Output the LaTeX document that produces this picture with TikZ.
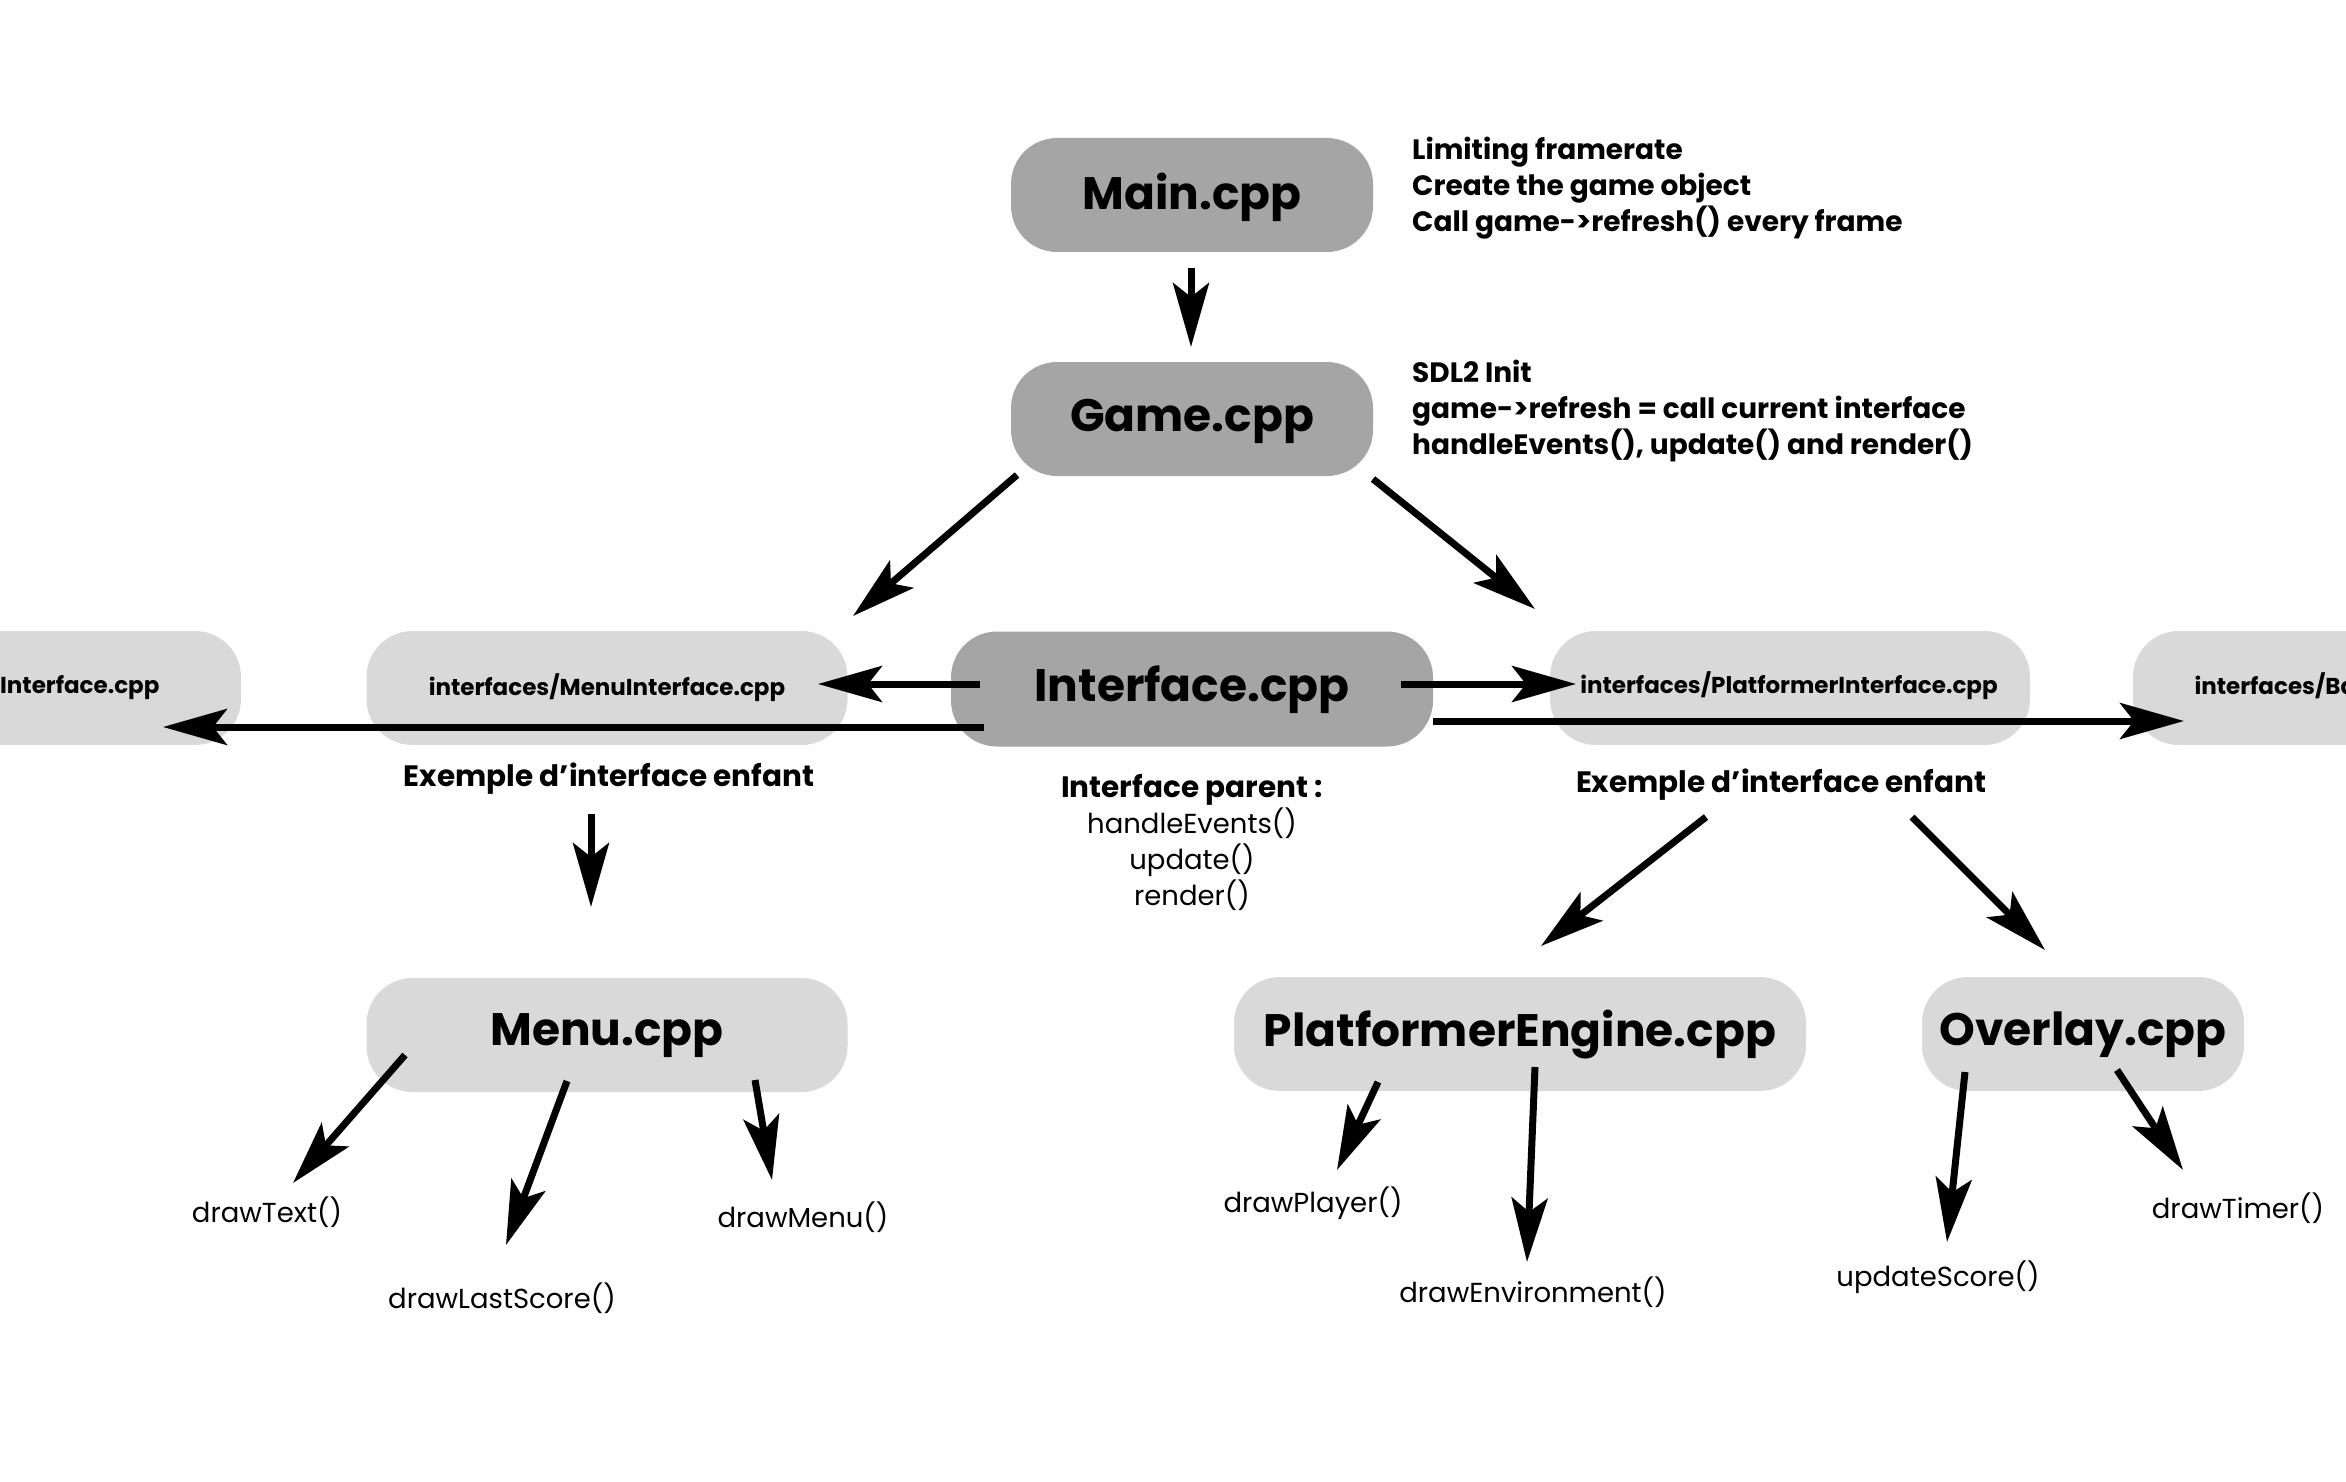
\documentclass[tikz,border=0pt]{standalone}
\usepackage{fontspec}
\setmainfont{Poppins}
\usetikzlibrary{arrows.meta}
\definecolor{boxdark}{HTML}{A5A5A5}
\definecolor{boxlight}{HTML}{D9D9D9}
\tikzset{
  filebox/.style={rectangle, rounded corners=46pt, inner sep=0pt, draw=none},
  darkbox/.style={filebox, fill=boxdark},
  lightbox/.style={filebox, fill=boxlight},
  bigtitle/.style={font=\fontsize{45.5}{50}\selectfont\bfseries},
  smalltitle/.style={font=\fontsize{23}{26}\selectfont\bfseries},
  notetext/.style={font=\fontsize{28}{36}\selectfont\bfseries, align=left, inner sep=0pt},
  exampletext/.style={font=\fontsize{29.5}{36}\selectfont\bfseries, inner sep=0pt},
  functext/.style={font=\fontsize{27.5}{36}\selectfont, inner sep=0pt},
  flow/.style={line width=7pt, -{Stealth[length=64pt,width=36pt,inset=14pt]}},
}
\begin{document}
\begin{tikzpicture}[x=1pt,y=-1pt]
\useasboundingbox (0,0) rectangle (2346,1482);
\clip (0,0) rectangle (2346,1482);
\fill[white] (0,0) rectangle (2346,1482);

% boxes
\node[darkbox, minimum width=362pt, minimum height=114pt] (main) at (1192,195) {};
\node[bigtitle] at (1192,197) {Main.cpp};
\node[darkbox, minimum width=362pt, minimum height=114pt] (game) at (1192,419) {};
\node[bigtitle] at (1192,421) {Game.cpp};
\node[darkbox, minimum width=482pt, minimum height=115pt] (iface) at (1192,689) {};
\node[bigtitle] at (1192,690) {Interface.cpp};

\node[lightbox, minimum width=482pt, minimum height=114pt] (leftcut) at (0,688) {};
\node[smalltitle, anchor=west, inner xsep=0pt] at (0,688) {Interface.cpp};
\node[lightbox, minimum width=481pt, minimum height=114pt] (menui) at (607,688) {};
\node[smalltitle] at (menui.center) {interfaces/MenuInterface.cpp};
\node[lightbox, minimum width=480pt, minimum height=114pt] (plati) at (1790,688) {};
\node[smalltitle] at (1789,686) {interfaces/PlatformerInterface.cpp};
\node[lightbox, minimum width=480pt, minimum height=114pt] (rightcut) at (2373,688) {};
\node[smalltitle, anchor=west] at (2191,686) {interfaces/Ba};

\node[lightbox, minimum width=481pt, minimum height=114pt] (menu) at (607,1035) {};
\node[bigtitle] at (607,1036) {Menu.cpp};
\node[lightbox, minimum width=572pt, minimum height=114pt] (engine) at (1520,1034) {};
\node[bigtitle] at (1520,1035) {PlatformerEngine.cpp};
\node[lightbox, minimum width=322pt, minimum height=114pt] (overlay) at (2083,1034) {};
\node[bigtitle] at (2083,1035) {Overlay.cpp};

% notes
\node[notetext, anchor=west] (mainnote) at (1412,188) {Limiting framerate\\Create the game object\\Call game->refresh() every frame};
\node[notetext, anchor=west] (gamenote) at (1412,411) {SDL2 Init\\game->refresh = call current interface\\handleEvents(), update() and render()};
\node[exampletext] (exl) at (609,779) {Exemple d’interface enfant};
\node[exampletext] (exr) at (1781,785) {Exemple d’interface enfant};
\node[functext, align=center] (parent) at (1192,842) {{\fontsize{29.5}{36}\selectfont\bfseries Interface parent :}\\handleEvents()\\update()\\render()};

% function labels
\node[functext] (ftext) at (267,1212) {drawText()};
\node[functext] (flast) at (502,1298) {drawLastScore()};
\node[functext] (fmenu) at (803,1217) {drawMenu()};
\node[functext] (fplayer) at (1313,1203) {drawPlayer()};
\node[functext] (fenv) at (1533,1292) {drawEnvironment()};
\node[functext] (fscore) at (1938,1277) {updateScore()};
\node[functext] (ftimer) at (2238,1208) {drawTimer()};

% connector end points
\coordinate (a1s) at (1191,268); \coordinate (a1e) at (1191,347);
\coordinate (a2s) at (1017,475); \coordinate (a2e) at (853,616);
\coordinate (a3s) at (1373,479); \coordinate (a3e) at (1535,609);
\coordinate (a4s) at (980,684);  \coordinate (a4e) at (818,684);
\coordinate (a5s) at (984,727);  \coordinate (a5e) at (163,727);
\coordinate (a6s) at (1401,684); \coordinate (a6e) at (1576,684);
\coordinate (a7s) at (1433,721); \coordinate (a7e) at (2184,721);
\coordinate (a8s) at (591,814);  \coordinate (a8e) at (591,907);
\coordinate (a9s) at (1706,817); \coordinate (a9e) at (1541,946);
\coordinate (a10s) at (1912,817); \coordinate (a10e) at (2045,950);
\coordinate (b1s) at (405,1055); \coordinate (b1e) at (293,1183);
\coordinate (b2s) at (567,1081); \coordinate (b2e) at (506,1245);
\coordinate (b3s) at (755,1080); \coordinate (b3e) at (772,1180);
\coordinate (b4s) at (1378,1082); \coordinate (b4e) at (1337,1170);
\coordinate (b5s) at (1535,1067); \coordinate (b5e) at (1527,1262);
\coordinate (b6s) at (1965,1072); \coordinate (b6e) at (1947,1242);
\coordinate (b7s) at (2117,1070); \coordinate (b7e) at (2183,1170);

\foreach \s/\e in {a1s/a1e,a2s/a2e,a3s/a3e,a4s/a4e,a5s/a5e,a6s/a6e,a7s/a7e,a8s/a8e,a9s/a9e,a10s/a10e,b1s/b1e,b2s/b2e,b3s/b3e,b4s/b4e,b5s/b5e,b6s/b6e,b7s/b7e}
  \draw[flow] (\s) -- (\e);
\end{tikzpicture}
\end{document}
